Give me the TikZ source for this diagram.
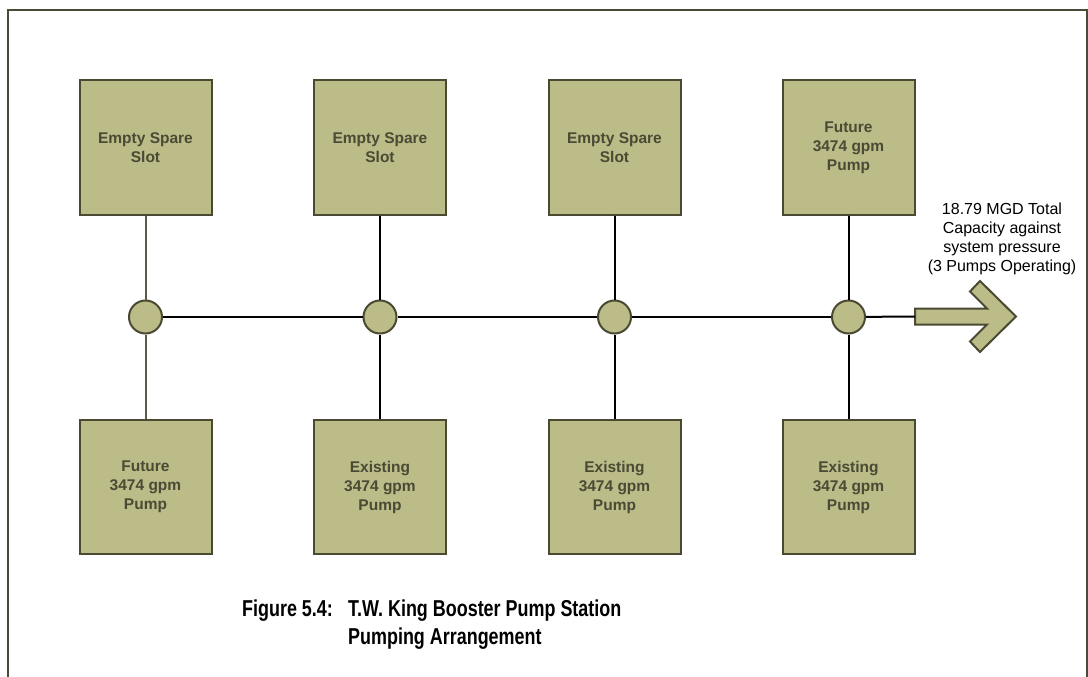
\documentclass[tikz,border=0pt]{standalone}
\usepackage{fontspec}
\setmainfont{Liberation Sans}
\newfontfamily\capfont[FakeStretch=0.78]{Liberation Sans}
\definecolor{boxfill}{HTML}{BBBC88}
\definecolor{boxdraw}{HTML}{4A4A32}
\definecolor{boxtext}{HTML}{4A4A35}
\definecolor{framecol}{HTML}{4A4A38}
\definecolor{greyline}{HTML}{5C5C46}
\tikzset{
  pumpbox/.style={draw=boxdraw, fill=boxfill, line width=2pt, minimum width=132pt, minimum height=134pt, inner sep=0pt, align=center, text=boxtext, font=\fontsize{15.5}{19}\selectfont\bfseries},
  junction/.style={circle, draw=boxdraw, fill=boxfill, line width=2pt, minimum size=33pt, inner sep=0pt},
  pipe/.style={line width=2pt, draw=black},
  pipegrey/.style={line width=2pt, draw=greyline},
  flowlabel/.style={align=center, inner sep=0pt, font=\fontsize{16}{19}\selectfont},
  captext/.style={inner sep=0pt, font=\capfont\bfseries\fontsize{23}{28}\selectfont},
  framestyle/.style={line width=2pt, draw=framecol},
  flowarrow/.style={draw=boxdraw, fill=boxfill, line width=2pt, line join=miter}
}
\begin{document}
\begin{tikzpicture}[x=1pt,y=-1pt]
\useasboundingbox (0,0) rectangle (1088,677);
% frame
\draw[framestyle] (8,680) -- (8,10) -- (1087,10) -- (1087,680);
% pump boxes, top row
\node[pumpbox] (t1) at (145.5,147.5) {Empty Spare\\Slot};
\node[pumpbox] (t2) at (380,147.5) {Empty Spare\\Slot};
\node[pumpbox] (t3) at (614.5,147.5) {Empty Spare\\Slot};
\node[pumpbox] (t4) at (848.5,147.5) {Future\\3474 gpm\\Pump};
% pump boxes, bottom row
\node[pumpbox] (b1) at (145.5,487) {Future\\3474 gpm\\Pump};
\node[pumpbox] (b2) at (380,487) {Existing\\3474 gpm\\Pump};
\node[pumpbox] (b3) at (614.5,487) {Existing\\3474 gpm\\Pump};
\node[pumpbox] (b4) at (848.5,487) {Existing\\3474 gpm\\Pump};
% junctions
\node[junction] (j1) at (145.5,317) {};
\node[junction] (j2) at (380,317) {};
\node[junction] (j3) at (614.5,317) {};
\node[junction] (j4) at (848.5,317) {};
% outflow arrow
\coordinate (arrL) at (915,316.5);
\draw[flowarrow] (915,308.5) -- (987,308.5) -- (970,291.5) -- (980,281) -- (1016,316.5) -- (980,352) -- (970,341.5) -- (987,324.5) -- (915,324.5) -- cycle;
% connectors
\draw[pipegrey] (t1) -- (j1);
\draw[pipegrey] (j1) -- (b1);
\draw[pipe] (t2) -- (j2);
\draw[pipe] (j2) -- (b2);
\draw[pipe] (t3) -- (j3);
\draw[pipe] (j3) -- (b3);
\draw[pipe] (t4) -- (j4);
\draw[pipe] (j4) -- (b4);
\draw[pipe] (j1) -- (j2);
\draw[pipe] (j2) -- (j3);
\draw[pipe] (j3) -- (j4);
\draw[pipe] (j4) -- (arrL);
% labels
\node[flowlabel, anchor=north] (flow) at (1002,203) {18.79 MGD Total\\Capacity against\\system pressure\\(3 Pumps Operating)};
\node[captext, anchor=base west] (cap) at (242,616) {\begin{tabular}[t]{@{}p{106pt}@{}l@{}}Figure 5.4: & T.W. King Booster Pump Station\\ & Pumping Arrangement\end{tabular}};
\end{tikzpicture}
\end{document}
